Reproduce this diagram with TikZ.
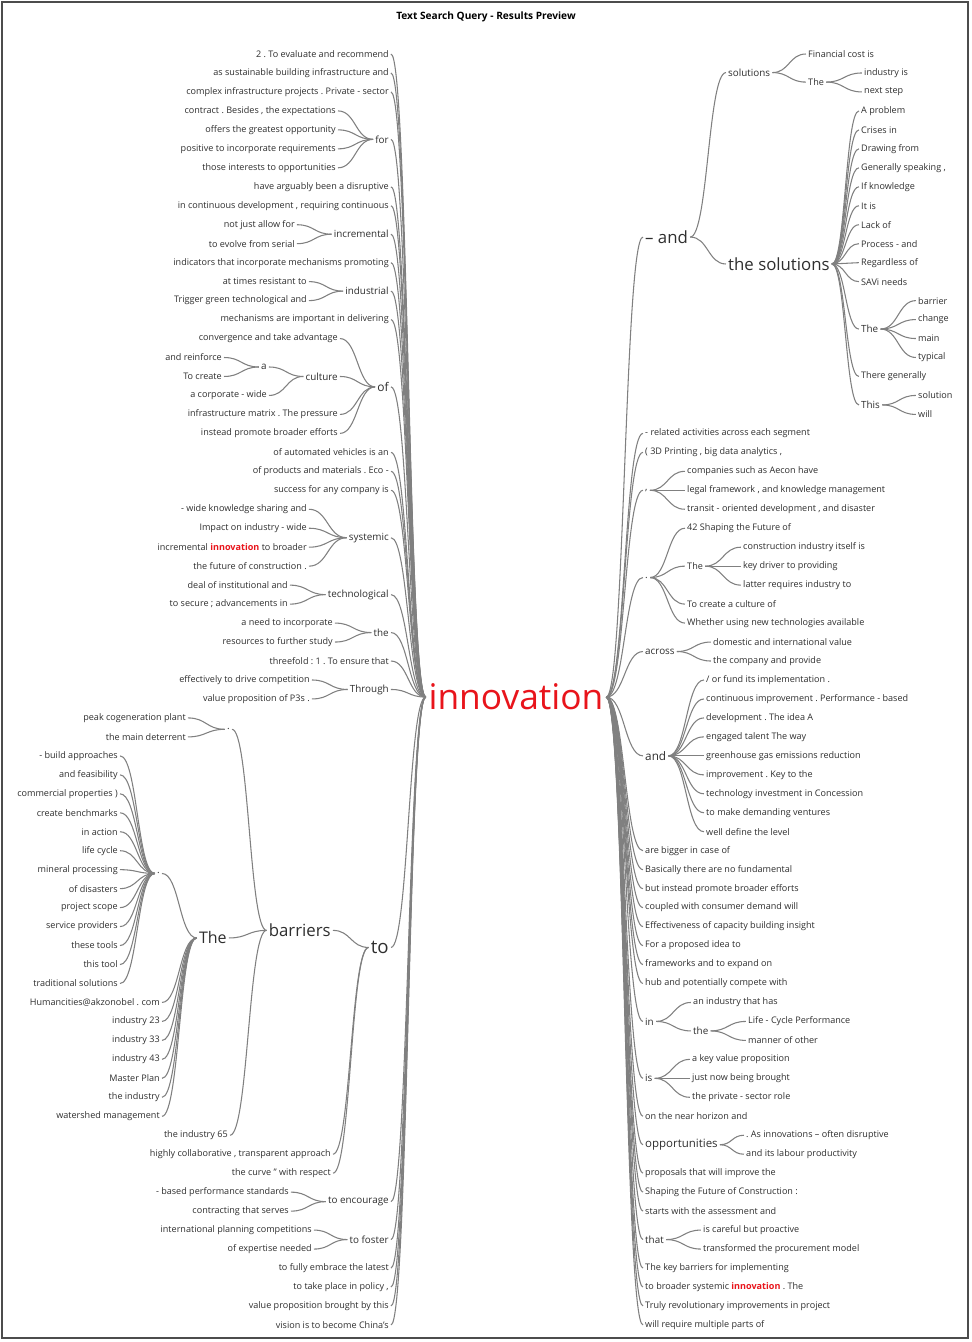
\documentclass[tikz,border=0pt]{standalone}
\usepackage{fontspec}
\setmainfont{Open Sans}
\usetikzlibrary{calc}
\definecolor{ink}{HTML}{2E2E2E}
\definecolor{lnk}{HTML}{808080}
\definecolor{hot}{HTML}{E8141B}
\newcommand\hit{\textcolor{hot}{\bfseries innovation}}
\frenchspacing

\begin{document}
\begin{tikzpicture}[x=0.75pt,y=-14.2275pt,
  lf/.style={font=\fontsize{6.8}{8}\selectfont,text=ink,inner sep=1.5pt},
  md/.style={lf,font=\fontsize{7.4}{9}\selectfont},
  bg/.style={lf,font=\fontsize{12.6}{15}\selectfont},
  wire/.style={draw=lnk,line width=0.8pt},
  twig/.style={to path={let \p1=(\tikztostart), \p2=(\tikztotarget) in
    .. controls ({(\x1+\x2)/2},\y1) and ({(\x1+\x2)/2},\y2) .. (\tikztotarget)}}]

\useasboundingbox (0,-2.847) rectangle (972,67.9);
\draw[gray!60!black,line width=1pt] (2,-2.741) rectangle (968,67.686);
\node[font=\bfseries\fontsize{7.6}{9}\selectfont] (title) at (486,-1.95) {Text Search Query - Results Preview};

\node[font=\fontsize{26.5}{30}\selectfont,text=hot,inner sep=2pt] (inno) at (516,33.9) {innovation};

%% left half
\foreach \nd/\r/\t in {
  a1/0/{2 . To evaluate and recommend},
  a2/1/{as sustainable building infrastructure and},
  a3/2/{complex infrastructure projects . Private - sector},
  a5/7/{have arguably been a disruptive},
  a6/8/{in continuous development , requiring continuous},
  a8/11/{indicators that incorporate mechanisms promoting},
  a10/14/{mechanisms are important in delivering},
  a12/21/{of automated vehicles is an},
  a13/22/{of products and materials . Eco -},
  a14/23/{success for any company is},
  a18/32/{threefold : 1 . To ensure that},
  a23/64/{to fully embrace the latest},
  a24/65/{to take place in policy ,},
  a25/66/{value proposition brought by this},
  a26/67/{vision is to become China's}}
  \node[lf,anchor=east] (\nd) at (391,\r) {\t};

\node[md,anchor=east] (for) at (391,4.5) {for};
\node[md,anchor=east] (incr) at (391,9.5) {incremental};
\node[md,anchor=east] (indu) at (391,12.5) {industrial};
\node[md,anchor=east,font=\fontsize{9}{10}\selectfont] (ofn) at (391,17.55) {of};
\node[md,anchor=east] (syst) at (391,25.5) {systemic};
\node[md,anchor=east] (tech) at (391,28.5) {technological};
\node[md,anchor=east] (thel) at (391,30.5) {the};
\node[md,anchor=east] (thro) at (391,33.5) {Through};
\node[bg,anchor=east,font=\fontsize{14}{16}\selectfont] (tob) at (391,47.1) {to};
\node[md,anchor=east] (enc) at (391,60.5) {to encourage};
\node[md,anchor=east] (fost) at (391,62.5) {to foster};

\foreach \nd in {a1,a2,a3,for,a5,a6,incr,a8,indu,a10,ofn,a12,a13,a14,syst,tech,thel,a18,thro,tob,enc,fost,a23,a24,a25,a26}
  \draw[wire] (\nd.east) to[twig] (inno.west);

\foreach \nd/\r/\t in {f1/3/{contract . Besides , the expectations},
  f2/4/{offers the greatest opportunity}, f3/5/{positive to incorporate requirements},
  f4/6/{those interests to opportunities}} {
  \node[lf,anchor=east] (\nd) at (338,\r) {\t};
  \draw[wire] (\nd.east) to[twig] (for.west);
}
\foreach \nd/\r/\t in {i1/9/{not just allow for}, i2/10/{to evolve from serial}} {
  \node[lf,anchor=east] (\nd) at (297,\r) {\t};
  \draw[wire] (\nd.east) to[twig] (incr.west);
}
\foreach \nd/\r/\t in {d1/12/{at times resistant to}, d2/13/{Trigger green technological and}} {
  \node[lf,anchor=east] (\nd) at (309,\r) {\t};
  \draw[wire] (\nd.east) to[twig] (indu.west);
}

% of / culture / a
\node[md,anchor=east] (cult) at (340,17) {culture};
\foreach \nd/\r/\t in {o1/15/{convergence and take advantage}, o3/19/{infrastructure matrix . The pressure},
  o4/20/{instead promote broader efforts}}
  \node[lf,anchor=east] (\nd) at (340,\r) {\t};
\foreach \nd in {o1,cult,o3,o4}
  \draw[wire] (\nd.east) to[twig] (ofn.west);
\node[md,anchor=east] (ca) at (269,16.5) {a};
\node[lf,anchor=east] (cw) at (269,18) {a corporate - wide};
\foreach \nd in {ca,cw}
  \draw[wire] (\nd.east) to[twig] (cult.west);
\foreach \nd/\r/\t in {ca1/16/{and reinforce}, ca2/17/{To create}} {
  \node[lf,anchor=east] (\nd) at (224,\r) {\t};
  \draw[wire] (\nd.east) to[twig] (ca.west);
}

\foreach \nd/\r/\t in {s1/24/{- wide knowledge sharing and}, s2/25/{Impact on industry - wide},
  s3/26/{incremental \hit{} to broader}, s4/27/{the future of construction .}} {
  \node[lf,anchor=east] (\nd) at (309,\r) {\t};
  \draw[wire] (\nd.east) to[twig] (syst.west);
}
\foreach \nd/\r/\t in {t1/28/{deal of institutional and}, t2/29/{to secure ; advancements in}} {
  \node[lf,anchor=east] (\nd) at (290,\r) {\t};
  \draw[wire] (\nd.east) to[twig] (tech.west);
}
\foreach \nd/\r/\t in {h1/30/{a need to incorporate}, h2/31/{resources to further study}} {
  \node[lf,anchor=east] (\nd) at (335,\r) {\t};
  \draw[wire] (\nd.east) to[twig] (thel.west);
}
\foreach \nd/\r/\t in {g1/33/{effectively to drive competition}, g2/34/{value proposition of P3s .}} {
  \node[lf,anchor=east] (\nd) at (312,\r) {\t};
  \draw[wire] (\nd.east) to[twig] (thro.west);
}

% to / barriers / The
\node[bg,anchor=east] (barr) at (333,46.2) {barriers};
\node[lf,anchor=east] (hc) at (333,58) {highly collaborative , transparent approach};
\node[lf,anchor=east] (cv) at (333,59) {the curve " with respect};
\foreach \nd in {barr,hc,cv}
  \draw[wire] (\nd.east) to[twig] (tob.west);
\node[md,anchor=east] (dot1) at (232,35.6) {.};
\node[bg,anchor=east,font=\fontsize{12}{14}\selectfont] (bthe) at (229,46.6) {The};
\node[lf,anchor=east] (i65) at (230,57) {the industry 65};
\foreach \nd in {dot1,bthe,i65}
  \draw[wire] (\nd.east) to[twig] (barr.west);
\foreach \nd/\r/\t in {p1/35/{peak cogeneration plant}, p2/36/{the main deterrent}} {
  \node[lf,anchor=east] (\nd) at (188,\r) {\t};
  \draw[wire] (\nd.east) to[twig] (dot1.west);
}
\node[md,anchor=east] (dot2) at (162,43.2) {.};
\draw[wire] (dot2.east) to[twig] (bthe.west);
\foreach \nd/\r/\t in {e1/50/{Humancities@akzonobel . com}, e2/51/{industry 23}, e3/52/{industry 33},
  e4/53/{industry 43}, e5/54/{Master Plan}, e6/55/{the industry}, e7/56/{watershed management}} {
  \node[lf,anchor=east] (\nd) at (162,\r) {\t};
  \draw[wire] (\nd.east) to[twig] (bthe.west);
}
\foreach \nd/\r/\t in {b1/37/{- build approaches}, b2/38/{and feasibility}, b3/39/{commercial properties )},
  b4/40/{create benchmarks}, b5/41/{in action}, b6/42/{life cycle}, b7/43/{mineral processing},
  b8/44/{of disasters}, b9/45/{project scope}, b10/46/{service providers}, b11/47/{these tools},
  b12/48/{this tool}, b13/49/{traditional solutions}} {
  \node[lf,anchor=east] (\nd) at (120,\r) {\t};
  \draw[wire] (\nd.east) to[twig] (dot2.west);
}

\foreach \nd/\r/\t in {n1/60/{- based performance standards}, n2/61/{contracting that serves}} {
  \node[lf,anchor=east] (\nd) at (291,\r) {\t};
  \draw[wire] (\nd.east) to[twig] (enc.west);
}
\foreach \nd/\r/\t in {m1/62/{international planning competitions}, m2/63/{of expertise needed}} {
  \node[lf,anchor=east] (\nd) at (314,\r) {\t};
  \draw[wire] (\nd.east) to[twig] (fost.west);
}

%% right half
\foreach \nd/\r/\t in {
  r1/20/{- related activities across each segment},
  r2/21/{( 3D Printing , big data analytics ,},
  r3/42/{are bigger in case of},
  r4/43/{Basically there are no fundamental},
  r5/44/{but instead promote broader efforts},
  r6/45/{coupled with consumer demand will},
  r7/46/{Effectiveness of capacity building insight},
  r8/47/{For a proposed idea to},
  r9/48/{frameworks and to expand on},
  r10/49/{hub and potentially compete with},
  r11/56/{on the near horizon and},
  r12/59/{proposals that will improve the},
  r13/60/{Shaping the Future of Construction :},
  r14/61/{starts with the assessment and},
  r15/64/{The key barriers for implementing},
  r16/65/{to broader systemic \hit{} . The},
  r17/66/{Truly revolutionary improvements in project},
  r18/67/{will require multiple parts of}}
  \node[lf,anchor=west] (\nd) at (643,\r) {\t};

\node[bg,anchor=west] (dand) at (643,9.65) {– and};
\node[md,anchor=west] (comma) at (643,23) {,};
\node[md,anchor=west] (stop) at (643,27.6) {.};
\node[md,anchor=west] (acr) at (643,31.5) {across};
\node[md,anchor=west,font=\fontsize{8.8}{10}\selectfont] (andn) at (643,37) {and};
\node[md,anchor=west] (inn) at (643,51) {in};
\node[md,anchor=west] (isn) at (643,54) {is};
\node[md,anchor=west,font=\fontsize{8.6}{10}\selectfont] (opp) at (643,57.5) {opportunities};
\node[md,anchor=west] (that) at (643,62.5) {that};

\foreach \nd in {dand,r1,r2,comma,stop,acr,andn,r3,r4,r5,r6,r7,r8,r9,r10,inn,isn,r11,opp,r12,r13,r14,that,r15,r16,r17,r18}
  \draw[wire] (inno.east) to[twig] (\nd.west);

% – and
\node[md,anchor=west] (sol) at (726,0.98) {solutions};
\node[bg,anchor=west] (tsol) at (726,11.07) {the solutions};
\foreach \nd in {sol,tsol}
  \draw[wire] (dand.east) to[twig] (\nd.west);
\node[lf,anchor=west] (fin) at (806,0) {Financial cost is};
\node[lf,anchor=west] (sthe) at (806,1.48) {The};
\foreach \nd in {fin,sthe}
  \draw[wire] (sol.east) to[twig] (\nd.west);
\foreach \nd/\r/\t in {st1/1/{industry is}, st2/2/{next step}} {
  \node[lf,anchor=west] (\nd) at (862,\r) {\t};
  \draw[wire] (sthe.east) to[twig] (\nd.west);
}
\foreach \nd/\r/\t in {u1/3/{A problem}, u2/4/{Crises in}, u3/5/{Drawing from}, u4/6/{Generally speaking ,},
  u5/7/{If knowledge}, u6/8/{It is}, u7/9/{Lack of}, u8/10/{Process - and}, u9/11/{Regardless of},
  u10/12/{SAVi needs}, u12/17/{There generally}}
  \node[lf,anchor=west] (\nd) at (859,\r) {\t};
\node[md,anchor=west] (uthe) at (859,14.5) {The};
\node[md,anchor=west] (uthis) at (859,18.5) {This};
\foreach \nd in {u1,u2,u3,u4,u5,u6,u7,u8,u9,u10,uthe,u12,uthis}
  \draw[wire] (tsol.east) to[twig] (\nd.west);
\foreach \nd/\r/\t in {w1/13/{barrier}, w2/14/{change}, w3/15/{main}, w4/16/{typical}} {
  \node[lf,anchor=west] (\nd) at (916,\r) {\t};
  \draw[wire] (uthe.east) to[twig] (\nd.west);
}
\foreach \nd/\r/\t in {v1/18/{solution}, v2/19/{will}} {
  \node[lf,anchor=west] (\nd) at (916,\r) {\t};
  \draw[wire] (uthis.east) to[twig] (\nd.west);
}

% , and .
\foreach \nd/\r/\t in {c1/22/{companies such as Aecon have}, c2/23/{legal framework , and knowledge management},
  c3/24/{transit - oriented development , and disaster}} {
  \node[lf,anchor=west] (\nd) at (685,\r) {\t};
  \draw[wire] (comma.east) to[twig] (\nd.west);
}
\foreach \nd/\r/\t in {k1/25/{42 Shaping the Future of}, k3/29/{To create a culture of},
  k4/30/{Whether using new technologies available}}
  \node[lf,anchor=west] (\nd) at (685,\r) {\t};
\node[lf,anchor=west] (kthe) at (685,27) {The};
\foreach \nd in {k1,kthe,k3,k4}
  \draw[wire] (stop.east) to[twig] (\nd.west);
\foreach \nd/\r/\t in {kt1/26/{construction industry itself is}, kt2/27/{key driver to providing},
  kt3/28/{latter requires industry to}} {
  \node[lf,anchor=west] (\nd) at (741,\r) {\t};
  \draw[wire] (kthe.east) to[twig] (\nd.west);
}

\foreach \nd/\r/\t in {x1/31/{domestic and international value}, x2/32/{the company and provide}} {
  \node[lf,anchor=west] (\nd) at (711,\r) {\t};
  \draw[wire] (acr.east) to[twig] (\nd.west);
}
\foreach \nd/\r/\t in {y1/33/{/ or fund its implementation .}, y2/34/{continuous improvement . Performance - based},
  y3/35/{development . The idea A}, y4/36/{engaged talent The way}, y5/37/{greenhouse gas emissions reduction},
  y6/38/{improvement . Key to the}, y7/39/{technology investment in Concession},
  y8/40/{to make demanding ventures}, y9/41/{well define the level}} {
  \node[lf,anchor=west] (\nd) at (704,\r) {\t};
  \draw[wire] (andn.east) to[twig] (\nd.west);
}

% in / is
\node[lf,anchor=west] (in1) at (691,50) {an industry that has};
\node[md,anchor=west] (inthe) at (691,51.5) {the};
\foreach \nd in {in1,inthe}
  \draw[wire] (inn.east) to[twig] (\nd.west);
\foreach \nd/\r/\t in {q1/51/{Life - Cycle Performance}, q2/52/{manner of other}} {
  \node[lf,anchor=west] (\nd) at (746,\r) {\t};
  \draw[wire] (inthe.east) to[twig] (\nd.west);
}
\foreach \nd/\r/\t in {j1/53/{a key value proposition}, j2/54/{just now being brought},
  j3/55/{the private - sector role}} {
  \node[lf,anchor=west] (\nd) at (690,\r) {\t};
  \draw[wire] (isn.east) to[twig] (\nd.west);
}
\foreach \nd/\r/\t in {z1/57/{. As innovations – often disruptive}, z2/58/{and its labour productivity}} {
  \node[lf,anchor=west] (\nd) at (744,\r) {\t};
  \draw[wire] (opp.east) to[twig] (\nd.west);
}
\foreach \nd/\r/\t in {th1/62/{is careful but proactive}, th2/63/{transformed the procurement model}} {
  \node[lf,anchor=west] (\nd) at (701,\r) {\t};
  \draw[wire] (that.east) to[twig] (\nd.west);
}
\end{tikzpicture}
\end{document}
